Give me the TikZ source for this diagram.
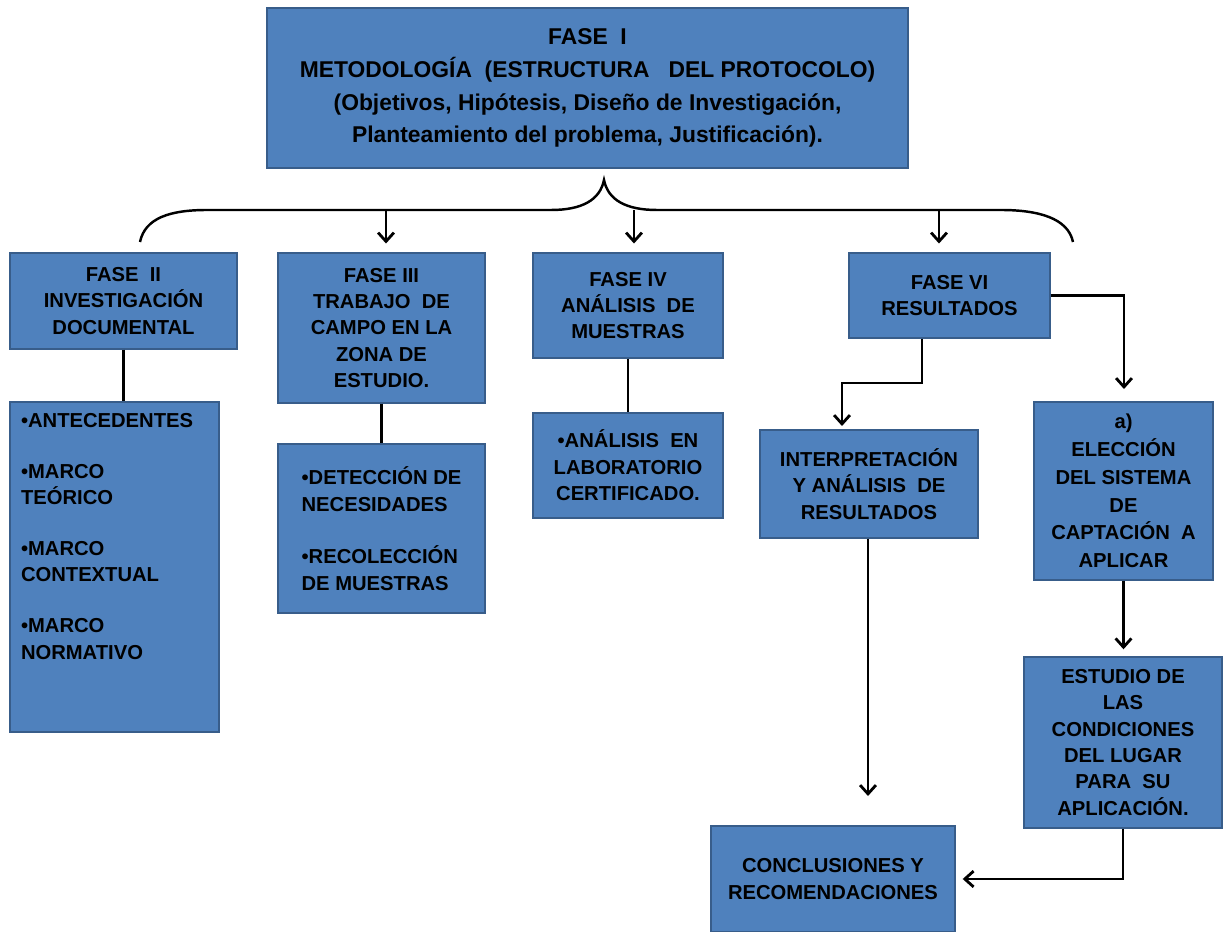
\documentclass[tikz,border=0pt]{standalone}
\usepackage{fontspec}
\setmainfont{Liberation Sans}
\usetikzlibrary{arrows.meta}

\definecolor{boxblue}{RGB}{79,129,189}
\definecolor{boxedge}{RGB}{56,93,138}

\tikzset{
  fase/.style={draw=boxedge, fill=boxblue, line width=0.8pt, align=center,
    font=\fontsize{11.5}{15}\selectfont\bfseries, text=black, inner sep=2pt},
  link/.style={line width=1.6pt},
  flecha/.style={line width=1.6pt, -{Straight Barb[length=5pt,width=9pt]}},
}

\begin{document}
\begin{tikzpicture}[x=0.02cm,y=-0.02cm]
    \useasboundingbox (0,0) rectangle (1225,932);
    % fase I
    \node[fase, minimum width=12.82cm, minimum height=3.2cm,
      font=\fontsize{13}{18.7}\selectfont\bfseries] (fase1) at (587.5,88)
      {FASE\ \ I\\ METODOLOGÍA\ \ (ESTRUCTURA\ \ \ DEL PROTOCOLO)\\
       (Objetivos, Hipótesis, Diseño de Investigación,\\
       Planteamiento del problema, Justificación).};
    % fases
    \node[fase, minimum width=4.54cm, minimum height=1.92cm] (fase2) at (123.5,301)
      {FASE\ \ II\\ INVESTIGACIÓN\\ DOCUMENTAL};
    \node[fase, minimum width=4.14cm, minimum height=3cm] (fase3) at (381.5,328)
      {FASE III\\ TRABAJO\ \ DE\\ CAMPO EN LA\\ ZONA DE\\ ESTUDIO.};
    \node[fase, minimum width=3.8cm, minimum height=2.1cm] (fase4) at (628,305.5)
      {FASE IV\\ ANÁLISIS\ \ DE\\ MUESTRAS};
    \node[fase, minimum width=4.02cm, minimum height=1.7cm] (fase6) at (949.5,295.5)
      {FASE VI\\ RESULTADOS};
    % listas
    \node[fase, inner sep=0.22cm] (lista2) at (114.5,567)
      {\parbox[t][6.16cm][t]{3.74cm}{\raggedright
       \textbullet ANTECEDENTES\\[14pt]
       \textbullet MARCO\\ TEÓRICO\\[14pt]
       \textbullet MARCO\\ CONTEXTUAL\\[14pt]
       \textbullet MARCO\\ NORMATIVO}};
    \node[fase, align=left, minimum width=4.14cm, minimum height=3.38cm] (lista3) at (381.5,528.5)
      {\textbullet DETECCIÓN DE\\ NECESIDADES\\[15pt]
       \textbullet RECOLECCIÓN\\ DE MUESTRAS};
    \node[fase, minimum width=3.8cm, minimum height=2.1cm] (lista4) at (628,465.5)
      {\textbullet ANÁLISIS\ \ EN\\ LABORATORIO\\ CERTIFICADO.};
    % resultados
    \node[fase, minimum width=4.36cm, minimum height=2.16cm] (interp) at (869,484)
      {INTERPRETACIÓN\\ Y ANÁLISIS\ \ DE\\ RESULTADOS};
    \node[fase, minimum width=3.58cm, minimum height=3.56cm,
      font=\fontsize{11.5}{15.8}\selectfont\bfseries] (eleccion) at (1123.5,491)
      {a)\\ ELECCIÓN\\ DEL SISTEMA\\ DE\\ CAPTACIÓN\ \ A\\ APLICAR};
    \node[fase, minimum width=3.96cm, minimum height=3.42cm] (estudio) at (1123,742.5)
      {ESTUDIO DE\\ LAS\\ CONDICIONES\\ DEL LUGAR\\ PARA\ \ SU\\ APLICACIÓN.};
    \node[fase, minimum width=4.88cm, minimum height=2.12cm] (concl) at (833,879)
      {CONCLUSIONES Y\\ RECOMENDACIONES};

    % llave
    \coordinate (b3) at (386,210);
    \coordinate (b4) at (634,210);
    \coordinate (b6) at (939,210);
    \draw[line width=1.4pt] (140,242) .. controls (145,218) and (170,210) .. (207,210)
      -- (551,210) .. controls (582,210) and (600,200) .. (604,180)
      .. controls (608,200) and (626,210) .. (657,210)
      -- (1001,210) .. controls (1038,210) and (1068,218) .. (1073,242);
    \draw[flecha, shorten >=5pt] (b3) -- (b3 |- fase3.north);
    \draw[flecha, shorten >=5pt] (b4) -- (b4 |- fase4.north);
    \draw[flecha, shorten >=5pt] (b6) -- (b6 |- fase6.north);

    % conexiones
    \draw[link] (fase2.south) -- (fase2.south |- lista2.north);
    \draw[link] (fase3.south) -- (lista3.north);
    \draw[link] (fase4.south) -- (lista4.north);
    \coordinate (codo1) at (922,383);
    \coordinate (punta1) at (842,426);
    \draw[flecha] (fase6.south -| codo1) -- (codo1) -| (punta1);
    \coordinate (codo2) at (1124,295.5);
    \draw[flecha, shorten >=7pt] (fase6.east) -- (codo2) -- (codo2 |- eleccion.north);
    \coordinate (punta2) at (868,796);
    \draw[flecha] (interp.south -| punta2) -- (punta2);
    \draw[flecha, shorten >=4pt] (eleccion.south) -- (eleccion.south |- estudio.north);
    \draw[flecha, shorten >=4pt] (estudio.south) -- (estudio.south |- concl.east) -- (concl.east);
\end{tikzpicture}
\end{document}
